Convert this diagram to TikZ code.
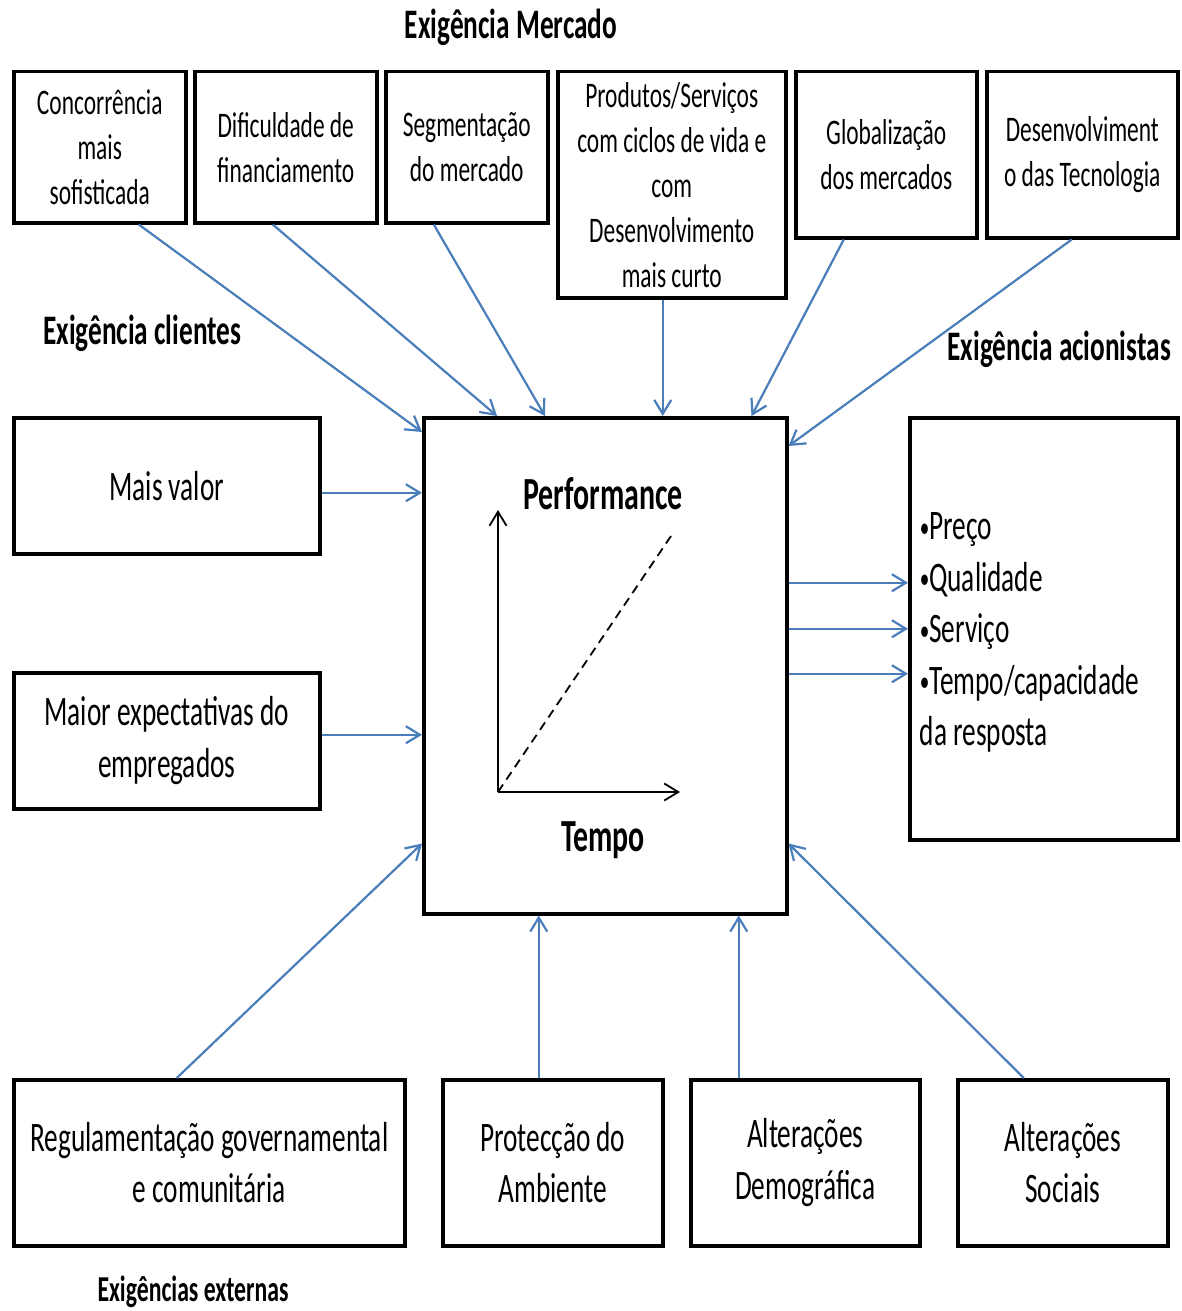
\documentclass[tikz,border=0pt]{standalone}
\usepackage{fontspec}
\usepackage{graphicx}
\setmainfont{Carlito}[FakeStretch=0.65]
\usetikzlibrary{arrows.meta,calc}
\definecolor{lnblue}{RGB}{74,126,187}
\newcommand{\mybul}{\raisebox{0.06em}{\scalebox{0.7}{•}}}
\begin{document}
\begin{tikzpicture}[x=1pt,y=-1pt,
  box/.style={draw, line width=3.5pt, inner sep=0pt, align=center, anchor=north west},
  small/.style={font=\fontsize{36}{45}\selectfont},
  big/.style={font=\fontsize{42}{51.5}\selectfont},
  title/.style={font=\fontsize{42}{50}\selectfont\bfseries, inner sep=0pt},
  perf/.style={font=\fontsize{46}{54}\selectfont\bfseries, inner sep=0pt},
  feed/.style={draw=lnblue, line width=2.2pt, -{Straight Barb[length=14pt,width=17pt,line width=2.2pt]}},
  axis/.style={draw=black, line width=1.8pt, -{Straight Barb[length=14pt,width=17pt,line width=1.8pt]}},
]
\useasboundingbox (0,0) rectangle (1182,1311);
\fill[white] (0,0) rectangle (1182,1311);

% titles
\node[title] (tm) at (511,27) {Exigência Mercado};
\node[title, anchor=west] (tc) at (43,333) {Exigência clientes};
\node[title, anchor=east] (ta) at (1171,349) {Exigência acionistas};
\node[title, font=\fontsize{36.5}{44}\selectfont\bfseries] (te) at (193,1292) {Exigências externas};

% top boxes
\node[box, small, minimum width=172pt, minimum height=151pt] (c1) at (12,70) {Concorrência\\mais\\sofisticada};
\node[box, small, minimum width=182pt, minimum height=151pt] (c2) at (193,70) {Dificuldade de\\financiamento};
\node[box, small, minimum width=162pt, minimum height=151pt] (c3) at (384,70) {Segmentação\\do mercado};
\node[box, small, minimum width=228pt, minimum height=226pt] (c4) at (556,70) {Produtos/Serviços\\com ciclos de vida e\\com\\Desenvolvimento\\mais curto};
\node[box, small, minimum width=181pt, minimum height=166pt] (c5) at (794,70) {Globalização\\dos mercados};
\node[box, small, minimum width=191pt, minimum height=166pt] (c6) at (985,70) {Desenvolviment\\o das Tecnologia};

% left boxes
\node[box, big, minimum width=306pt, minimum height=136pt] (mv) at (12,416) {Mais valor};
\node[box, big, minimum width=306pt, minimum height=136pt] (emp) at (12,671) {Maior expectativas do\\empregados};

% central box
\node[box, minimum width=363pt, minimum height=496pt] (P) at (422,416) {};
\node[perf] (pf) at (603,494) {Performance};
\node[perf] (tp) at (603,840) {Tempo};
\coordinate (O) at (498,792);
\coordinate (Yend) at (498,510);
\coordinate (Xend) at (680,792);
\coordinate (Dend) at (671,536);
\draw[axis] (O) -- (Yend);
\draw[axis] (O) -- (Xend);
\draw[line width=1.8pt, dash pattern=on 9pt off 6pt] (O) -- (Dend);

% right box
\node[box, big, minimum width=268pt, minimum height=422pt, text width=248pt, align=flush left] (R) at (908,416) {\rule{0pt}{35pt}\mybul Preço\\\mybul Qualidade\\\mybul Serviço\\\mybul Tempo/capacidade\\da resposta};

% bottom boxes
\node[box, big, minimum width=391pt, minimum height=166pt] (b1) at (12,1078) {Regulamentação governamental\\e comunitária};
\node[box, big, minimum width=220pt, minimum height=166pt] (b2) at (441,1078) {Protecção do\\Ambiente};
\node[box, big, minimum width=229pt, minimum height=166pt] (b3) at (689,1078) {Alterações\\Demográfica};
\node[box, big, minimum width=210pt, minimum height=166pt] (b4) at (956,1078) {Alterações\\Sociais};

% connectors from top
\draw[feed] ([xshift=39pt]c1.south) -- ([yshift=-16pt]P.north west);
\draw[feed] ([xshift=-13pt]c2.south) -- ([xshift=75pt]P.north west);
\draw[feed] ([xshift=-33pt]c3.south) -- ([xshift=123pt]P.north west);
\coordinate (s4) at ([xshift=-9pt]c4.south);
\draw[feed] (s4) -- (s4 |- P.north);
\draw[feed] ([xshift=-42.5pt]c5.south) -- ([xshift=-37pt]P.north east);
\draw[feed] ([xshift=-10.5pt]c6.south) -- ([yshift=-30pt]P.north east);

% left connectors
\coordinate (s7) at ([yshift=-7pt]mv.east);
\draw[feed] (s7) -- (s7 -| P.west);
\coordinate (s8) at ([yshift=6pt]emp.east);
\draw[feed] (s8) -- (s8 -| P.west);

% right connectors
\coordinate (r1) at ([yshift=83pt]P.east);
\coordinate (r2) at ([yshift=37pt]P.east);
\coordinate (r3) at ([yshift=-8pt]P.east);
\draw[feed] (r1) -- (r1 -| R.west);
\draw[feed] (r2) -- (r2 -| R.west);
\draw[feed] (r3) -- (r3 -| R.west);

% bottom connectors
\draw[feed] ([xshift=-32.5pt]b1.north) -- ([yshift=72pt]P.south west);
\coordinate (s11) at ([xshift=-14pt]b2.north);
\draw[feed] (s11) -- (s11 |- P.south);
\coordinate (s12) at ([xshift=-66.5pt]b3.north);
\draw[feed] (s12) -- (s12 |- P.south);
\draw[feed] ([xshift=-39pt]b4.north) -- ([yshift=72pt]P.south east);
\end{tikzpicture}
\end{document}
